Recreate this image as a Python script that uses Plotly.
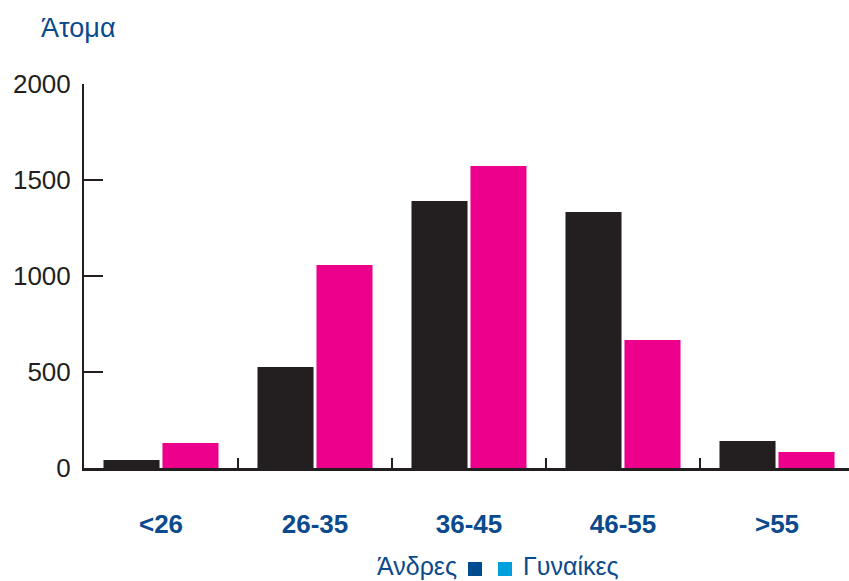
import plotly.graph_objects as go

categories = ["<26", "26-35", "36-45", "46-55", ">55"]
men = [42, 526, 1391, 1333, 141]
women = [130, 1057, 1573, 667, 83]
y_ticks = [0, 500, 1000, 1500, 2000]

W, H = 849, 581
L, R, T, B = 84, 0, 84, 113
pw, ph = W - L - R, H - T - B

def px(x):
    return (x - L) / pw

def py(y):
    return (H - B - y) / ph

BLUE = "#0b4a8c"
DARK = "#231f20"
FONT = "Liberation Sans, Arial, sans-serif"

fig = go.Figure()
fig.add_trace(go.Bar(x=categories, y=men, name="Άνδρες", marker=dict(color=DARK, line=dict(width=0))))
fig.add_trace(go.Bar(x=categories, y=women, name="Γυναίκες", marker=dict(color="#ec008c", line=dict(width=0))))

fig.update_layout(
    width=W, height=H,
    margin=dict(l=L, r=R, t=T, b=B),
    paper_bgcolor="white", plot_bgcolor="white",
    barmode="group", bargap=0.234, bargroupgap=0.05,
    showlegend=False,
    font=dict(family=FONT, color=DARK),
)
fig.update_xaxes(
    type="category", range=[-0.5, -0.5 + pw / 154],
    showline=True, linecolor=DARK, linewidth=2.5,
    ticks="inside", tickson="boundaries", ticklen=10, tickwidth=2, tickcolor=DARK,
    showgrid=False, zeroline=False,
    tickfont=dict(size=26, color=BLUE, family=FONT, weight="bold"),
    ticklabelstandoff=31,
)
fig.update_yaxes(
    range=[0, 2000], tickvals=y_ticks,
    showline=True, linecolor=DARK, linewidth=2,
    ticks="inside", ticklen=19, tickwidth=2, tickcolor=DARK,
    showgrid=False, zeroline=False,
    tickfont=dict(size=26, color=DARK),
    ticklabelstandoff=6,
)

fig.add_annotation(text="Άτομα", xref="paper", yref="paper", x=px(39), y=py(28),
                   xanchor="left", yanchor="middle", showarrow=False,
                   font=dict(size=27, color=BLUE))
fig.add_annotation(text="Άνδρες", xref="paper", yref="paper", x=px(459), y=py(566),
                   xanchor="right", yanchor="middle", showarrow=False,
                   font=dict(size=25, color=BLUE))
fig.add_annotation(text="Γυναίκες", xref="paper", yref="paper", x=px(521), y=py(566),
                   xanchor="left", yanchor="middle", showarrow=False,
                   font=dict(size=25, color=BLUE))
fig.add_shape(type="rect", xref="paper", yref="paper", x0=px(468), x1=px(482), y0=py(576), y1=py(562),
              fillcolor="#004a8f", line=dict(width=0))
fig.add_shape(type="rect", xref="paper", yref="paper", x0=px(498), x1=px(512), y0=py(576), y1=py(562),
              fillcolor="#00a0dc", line=dict(width=0))

fig.write_html("out.html", config={"displayModeBar": False},
               post_script="document.body.style.margin='0';document.body.style.overflow='hidden';")
